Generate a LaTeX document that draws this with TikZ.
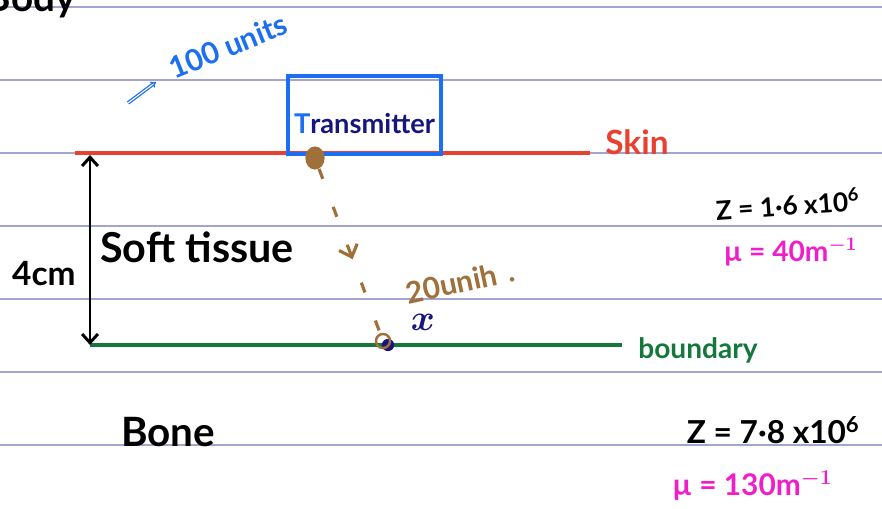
\documentclass[tikz,border=0pt]{standalone}
\usepackage{amsmath}
\usepackage{fontspec}
\setmainfont{Lato}
\usetikzlibrary{arrows.meta, positioning, decorations.markings}
\definecolor{ruling}{HTML}{A4A4D0}
\definecolor{skinred}{HTML}{E8412F}
\definecolor{txblue}{HTML}{1C6FF0}
\definecolor{inknavy}{HTML}{16167C}
\definecolor{beambrown}{HTML}{A0703A}
\definecolor{bndgreen}{HTML}{16773D}
\definecolor{mumag}{HTML}{F01EC8}
\tikzset{
  rule/.style={draw=ruling, line width=1.5pt},
  layer/.style={line width=1.8pt},
  hand/.style={inner sep=0pt, font=\fontsize{#1}{#1}\selectfont\bfseries},
  hand/.default=18,
  txbox/.style={draw=txblue, line width=1.9pt, minimum width=3.06cm, minimum height=1.56cm},
  span/.style={{Straight Barb[length=5pt, width=9pt]}-{Straight Barb[length=5pt, width=9pt]}, line width=1.7pt},
  beam/.style={draw=beambrown, line width=1.8pt, dash pattern=on 6pt off 17pt,
               postaction={decorate},
               decoration={markings, mark=at position 0.55 with {\arrow[solid]{Straight Barb[length=6pt, width=11pt]}}}},
  hint/.style={draw=txblue, double, line width=0.7pt, -{Implies}},
}

\begin{document}
\begin{tikzpicture}[x=0.02cm, y=-0.02cm]
  \useasboundingbox (0,0) rectangle (882,509);
  % ruled paper
  \foreach \y in {7,80,153,226,299,372,445}
    \draw[rule] (0,\y) -- (882,\y);
  \node (body) [hand=22, anchor=base east] at (76,12) {Body};

  % layers
  \coordinate (skinL) at (75,153);
  \coordinate (skinR) at (590,153);
  \coordinate (bndL)  at (90,345);
  \coordinate (bndR)  at (622,345);
  \draw[layer, draw=skinred] (skinL) -- (skinR);
  \draw[layer, draw=bndgreen] (bndL) -- (bndR);
  \node (skin) [hand=19, text=skinred, anchor=west] at (605,142) {Skin};
  \node (bnd)  [hand=16, text=bndgreen, anchor=west] at (638,350) {boundary};

  % transmitter
  \node (tx) [txbox] at (364.5,115) {};
  \node (txlab) [hand=15.5, text=inknavy] at ([yshift=-5pt]tx.center) {{\color{txblue}T}ransmitter};
  \node (units) [hand=17, text=txblue, rotate=22] at (228,46) {100 units};
  \coordinate (hintA) at (128,103);
  \coordinate (hintB) at (156,82);
  \draw[hint] (hintA) -- (hintB);

  % beam
  \node (src) [circle, fill=beambrown, minimum size=11pt, inner sep=0pt, yscale=1.2] at (315,158) {};
  \node (hit) [circle, fill=inknavy, minimum size=7pt, inner sep=0pt] at (388,345) {};
  \node (hitb) [circle, draw=beambrown, line width=1.4pt, minimum size=8pt, inner sep=0pt] at (383,341) {};
  \draw[beam] (src) -- (hitb);
  \node (thru) [hand=17, text=beambrown, rotate=12] at (460,282) {20unih\,\,.};
  \node (xlab) [hand=22, text=inknavy] at (423,322) {$\boldsymbol{x}$};

  % thickness
  \coordinate (spanT) at (90,155);
  \draw[span] (spanT) -- (bndL);
  \node (depth) [hand=19, anchor=east] at (76,274) {4cm};
  \node (soft)  [hand=23.5, anchor=west] at (100,247) {Soft tissue};

  % properties
  \node (z1)  [hand=15, anchor=east, rotate=4] at (860,199) {Z = 1·6 x10\textsuperscript{6}};
  \node (mu1) [hand=16, text=mumag, anchor=east] at (858,252) {µ = 40m$^{\boldsymbol{-1}}$};
  \node (bone) [hand=23] at (168,432) {Bone};
  \node (z2)  [hand=18, anchor=east] at (860,430) {Z = 7·8 x10\textsuperscript{6}};
  \node (mu2) [hand=17, text=mumag, anchor=west] at (672,486) {µ = 130m$^{\boldsymbol{-1}}$};
\end{tikzpicture}
\end{document}
